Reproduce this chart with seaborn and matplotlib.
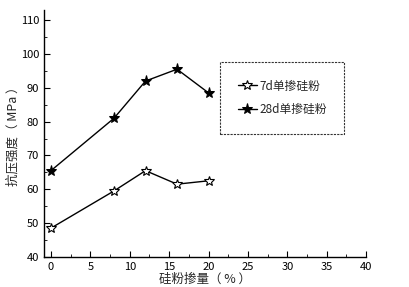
import matplotlib
matplotlib.use("Agg")
import matplotlib.pyplot as plt
import seaborn as sns
import pandas as pd
from matplotlib.ticker import MultipleLocator

x_vals = [0, 8, 12, 16, 20]
s7d = [48.5, 59.5, 65.5, 61.5, 62.5]
s28d = [65.5, 81, 92, 95.5, 88.5]
labels = ["7d单掺硅粉", "28d单掺硅粉"]

df = pd.DataFrame({
    "x": x_vals * 2,
    "y": s7d + s28d,
    "series": [labels[0]] * len(x_vals) + [labels[1]] * len(x_vals),
})

sns.set_style("ticks")
plt.rcParams['font.family'] = ['Noto Sans CJK SC', 'DejaVu Sans']

fig = plt.figure(figsize=(4.1, 2.87), dpi=100)
ax = fig.add_axes([0.107, 0.105, 0.786, 0.86])

sns.lineplot(data=df, x="x", y="y", hue="series", style="series",
             markers={labels[0]: "*", labels[1]: "*"}, dashes=False,
             palette={labels[0]: "black", labels[1]: "black"},
             ax=ax, linewidth=1.0, legend=False)
lines = ax.get_lines()
lines[0].set_markerfacecolor("white")
lines[0].set_markeredgecolor("black")
lines[0].set_markersize(7)
lines[0].set_markeredgewidth(0.8)
lines[1].set_markerfacecolor("black")
lines[1].set_markeredgecolor("black")
lines[1].set_markersize(8)
for ln, lb in zip(lines, labels):
    ln.set_label(lb)

ax.set_xlim(-0.9, 40)
ax.set_ylim(40, 113)
ax.xaxis.set_major_locator(MultipleLocator(5))
ax.xaxis.set_minor_locator(MultipleLocator(2.5))
ax.yaxis.set_major_locator(MultipleLocator(10))
ax.yaxis.set_minor_locator(MultipleLocator(5))
ax.tick_params(which="both", direction="in", labelsize=8, colors="black")
ax.tick_params(which="major", length=4)
ax.tick_params(which="minor", length=2)
for sp in ["top", "right"]:
    ax.spines[sp].set_visible(False)
for sp in ["left", "bottom"]:
    ax.spines[sp].set_color("black")
    ax.spines[sp].set_linewidth(1.0)

ax.set_xlabel("硅粉掺量（ % ）", fontsize=9, labelpad=1)
ax.set_ylabel("抗压强度（ MPa ）", fontsize=9, labelpad=1)

leg = ax.legend(loc="upper left", bbox_to_anchor=(0.547, 0.79), frameon=True,
                fontsize=8.5, handlelength=1.6, borderpad=1.5, fancybox=False,
                edgecolor="black", labelspacing=0.9, handletextpad=0.2,
                borderaxespad=0)
leg.get_frame().set_linestyle((0, (2, 1)))
leg.get_frame().set_linewidth(0.8)

fig.savefig("out.png", dpi=100)
